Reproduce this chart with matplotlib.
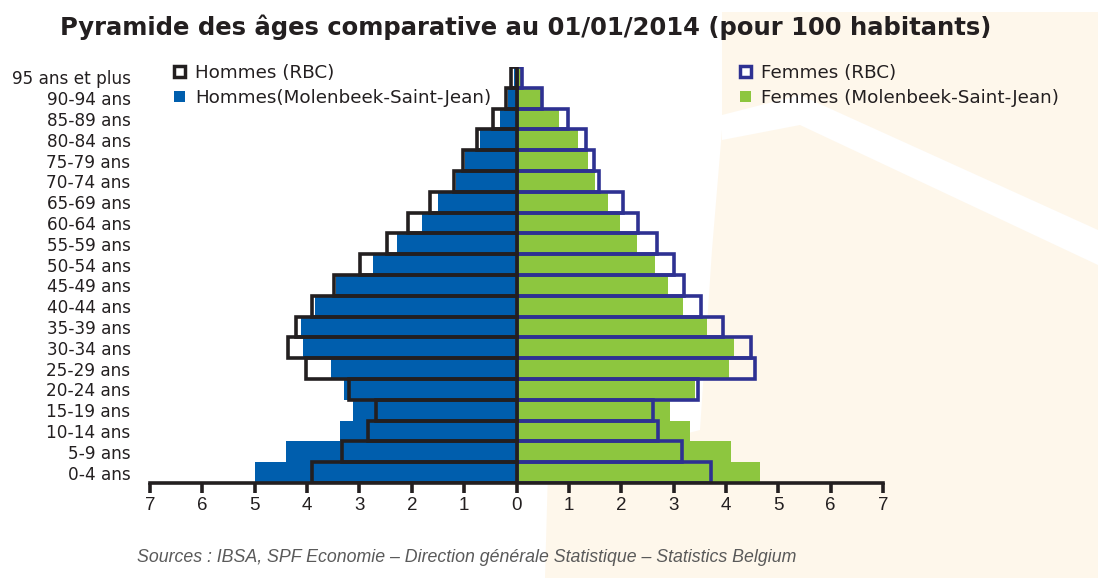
import numpy as np
import matplotlib.pyplot as plt
from matplotlib.patches import Patch, Polygon

# age groups, bottom to top
ages = ["0-4 ans", "5-9 ans", "10-14 ans", "15-19 ans", "20-24 ans", "25-29 ans",
        "30-34 ans", "35-39 ans", "40-44 ans", "45-49 ans", "50-54 ans", "55-59 ans",
        "60-64 ans", "65-69 ans", "70-74 ans", "75-79 ans", "80-84 ans", "85-89 ans",
        "90-94 ans", "95 ans et plus"]

# pour 100 habitants
hommes_mol = [5.0, 4.41, 3.38, 3.12, 3.30, 3.55, 4.07, 4.12, 3.85, 3.45,
              2.75, 2.28, 1.81, 1.49, 1.16, 0.98, 0.69, 0.32, 0.17, 0.05]
hommes_rbc = [3.91, 3.34, 2.83, 2.68, 3.19, 4.03, 4.37, 4.21, 3.90, 3.48,
              2.99, 2.48, 2.08, 1.66, 1.20, 1.02, 0.75, 0.45, 0.20, 0.10]
femmes_mol = [4.66, 4.09, 3.31, 2.93, 3.40, 4.06, 4.15, 3.63, 3.18, 2.89,
              2.64, 2.31, 1.97, 1.75, 1.49, 1.36, 1.18, 0.81, 0.50, 0.08]
femmes_rbc = [3.71, 3.17, 2.70, 2.60, 3.47, 4.55, 4.48, 3.94, 3.53, 3.19,
              3.00, 2.68, 2.32, 2.03, 1.58, 1.48, 1.32, 0.98, 0.48, 0.10]

blue = "#005EAD"
green = "#8DC63F"
navy = "#2E3192"
dark = "#231F20"

W, H = 1098, 578
fig = plt.figure(figsize=(W / 100, H / 100), dpi=100)

# pale decorative background shape on the right
def px(pts):
    return [(x / W, 1 - y / H) for x, y in pts]

cream = Polygon(px([(722, 12), (1098, 12), (1098, 578), (545, 578), (548, 470),
                    (700, 430), (712, 250), (722, 130)]),
                closed=True, transform=fig.transFigure, facecolor="#FEF7EB",
                edgecolor="none", zorder=-2)
fig.patches.append(cream)
white_band = Polygon(px([(722, 115), (800, 95), (1098, 230), (1098, 265), (800, 125), (722, 140)]),
                     closed=True, transform=fig.transFigure, facecolor="white",
                     edgecolor="none", zorder=-1)
fig.patches.append(white_band)

ax = fig.add_axes([150 / W, 1 - 483 / H, (883 - 150) / W, (483 - 67) / H])
ax.patch.set_alpha(0)

y = np.arange(len(ages))

# fills
ax.barh(y, -np.array(hommes_mol), height=1.0, color=blue, zorder=2)
ax.barh(y, femmes_mol, height=1.0, color=green, zorder=2)
# outlines (Région de Bruxelles-Capitale)
ax.barh(y, femmes_rbc, height=1.0, fill=False, edgecolor=navy, linewidth=2.6, zorder=3)
ax.barh(y, -np.array(hommes_rbc), height=1.0, fill=False, edgecolor=dark, linewidth=2.6, zorder=4)

ax.set_xlim(-7, 7)
ax.set_ylim(-0.5, 19.5)

ticks = np.arange(-7, 8)
ax.set_xticks(ticks)
ax.set_xticklabels([str(abs(t)) for t in ticks], fontsize=13.5, color=dark,
                   family="Liberation Sans")
ax.tick_params(axis="x", length=7, width=2.6, color=dark, pad=3)

ax.set_yticks(y)
ax.set_yticklabels(ages, fontsize=12.2, color=dark)
ax.tick_params(axis="y", length=0, pad=14)

for s in ["top", "right", "left"]:
    ax.spines[s].set_visible(False)
ax.spines["bottom"].set_linewidth(2.6)
ax.spines["bottom"].set_color(dark)
ax.spines["bottom"].set_zorder(5)

# legends
h_left = [Patch(facecolor="white", edgecolor=dark, linewidth=2.5, label="Hommes (RBC)"),
          Patch(facecolor=blue, edgecolor="none", label="Hommes(Molenbeek-Saint-Jean)")]
h_right = [Patch(facecolor="white", edgecolor=navy, linewidth=2.5, label="Femmes (RBC)"),
           Patch(facecolor=green, edgecolor="none", label="Femmes (Molenbeek-Saint-Jean)")]
for handles, xpos in [(h_left, 174), (h_right, 740)]:
    leg = fig.legend(handles=handles, loc="upper left",
                     bbox_to_anchor=(xpos / W, 1 - 64 / H), frameon=False,
                     fontsize=13.2, handlelength=0.6, handleheight=0.6,
                     handletextpad=0.55, labelspacing=0.38, borderpad=0, borderaxespad=0)
    for t in leg.get_texts():
        t.set_color(dark)

fig.text(60 / W, 1 - 27 / H,
         "Pyramide des âges comparative au 01/01/2014 (pour 100 habitants)",
         fontsize=17.5, fontweight="bold", color=dark, va="center", ha="left")

fig.text(137 / W, 1 - 557 / H,
         "Sources : IBSA, SPF Economie \u2013 Direction générale Statistique \u2013 Statistics Belgium",
         fontsize=12.8, style="italic", color="#5A5A5A", va="center", ha="left",
         family="Liberation Sans")

fig.savefig("out.png", dpi=100)
